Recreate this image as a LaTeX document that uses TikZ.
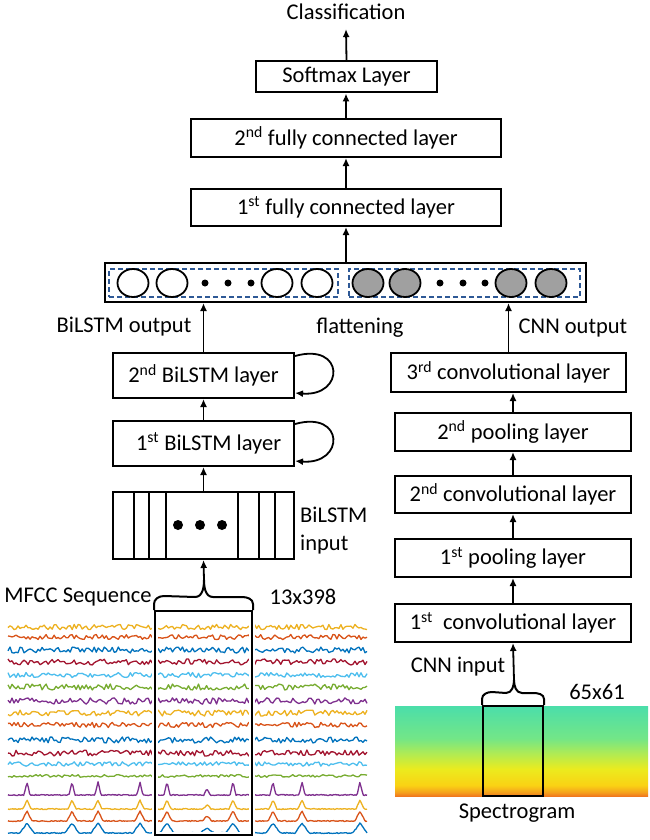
\documentclass[tikz,border=0pt]{standalone}
\usepackage{fontspec}
\setmainfont{Carlito}
\usetikzlibrary{arrows.meta,shapes.geometric}

\definecolor{mblue}{RGB}{0,114,189}
\definecolor{morange}{RGB}{217,83,25}
\definecolor{myellow}{RGB}{237,177,32}
\definecolor{mpurple}{RGB}{126,47,142}
\definecolor{mgreen}{RGB}{119,172,48}
\definecolor{mlblue}{RGB}{77,190,238}
\definecolor{mred}{RGB}{162,20,47}
\definecolor{dashblue}{RGB}{46,89,150}
\definecolor{cellgray}{RGB}{160,160,160}

% spectrogram colours, bottom to top
\pgfdeclareverticalshading{spec}{100bp}{color(0bp)=(rgb,255:red,240;green,120;blue,30);
  color(25bp)=(rgb,255:red,240;green,120;blue,30);
  color(27bp)=(rgb,255:red,245;green,160;blue,30);
  color(31bp)=(rgb,255:red,250;green,210;blue,20);
  color(40bp)=(rgb,255:red,235;green,235;blue,30);
  color(48bp)=(rgb,255:red,180;green,235;blue,80);
  color(57bp)=(rgb,255:red,115;green,230;blue,135);
  color(75bp)=(rgb,255:red,75;green,222;blue,170);
  color(100bp)=(rgb,255:red,75;green,222;blue,170)}

\newcommand{\pk}[2]{max(0,1-abs(\x-#1)/#2)}

\tikzset{
  layer/.style={draw, line width=2pt, inner sep=0pt, font=\fontsize{22.5}{27}\selectfont},
  lbl/.style={inner sep=0pt, font=\fontsize{22.5}{27}\selectfont},
  arr/.style={-{Latex[length=8pt,width=7pt]}, line width=1.8pt},
  cell/.style={ellipse, draw, line width=1.8pt, minimum width=31pt, minimum height=28pt, inner sep=0pt},
  gcell/.style={cell, fill=cellgray},
  dot/.style={circle, fill, inner sep=0pt, minimum size=8pt},
  group/.style={draw=dashblue, dash pattern=on 5pt off 3pt, line width=1.5pt, inner sep=0pt},
  window/.style={draw, line width=2pt, inner sep=0pt, preaction={draw=white, line width=6pt}}
}

\begin{document}
\begin{tikzpicture}[x=1pt,y=-1pt]
\useasboundingbox[fill=white] (0,0) rectangle (650,840);

% top stack
\node[lbl] (cls) at (346,12) {Classification};
\node[layer, minimum width=181pt, minimum height=31pt] (sm) at (346.5,77) {Softmax Layer};
\node[layer, minimum width=310pt, minimum height=38pt] (fc2) at (346,138) {2\textsuperscript{nd} fully connected layer};
\node[layer, minimum width=310pt, minimum height=37pt] (fc1) at (346,207.5) {1\textsuperscript{st} fully connected layer};

% flattened vector
\node[draw, line width=2pt, minimum width=481pt, minimum height=39pt, inner sep=0pt] (bar) at (345.5,282.5) {};
\node[group, minimum width=229pt, minimum height=28pt] (lgrp) at (223.5,283) {};
\node[group, minimum width=231pt, minimum height=28pt] (rgrp) at (464.5,283) {};
\foreach \u in {133,172,277,317} \node[cell] at (\u,283) {};
\foreach \u in {368,405,511,551} \node[gcell] at (\u,283) {};
\foreach \u in {205,228,251,440,463,485} \node[dot, minimum size=7pt] at (\u,283) {};

\node[lbl] (bout) at (124,327) {BiLSTM output};
\node[lbl] (flat) at (360,328) {flattening};
\node[lbl] (cout) at (573,328) {CNN output};

% BiLSTM branch
\node[layer, minimum width=181pt, minimum height=45pt] (bl2) at (203.5,375.5) {2\textsuperscript{nd} BiLSTM layer};
\node[layer, minimum width=181pt, minimum height=45pt] (bl1) at (203.5,443.5) {\ \ 1\textsuperscript{st} BiLSTM layer};
\node[layer, minimum width=181pt, minimum height=67pt] (inp) at (203.5,525.5) {};
\foreach \d in {22,37,54,126,147,163}
  \draw[line width=2pt] ([xshift=\d pt]inp.north west) -- ([xshift=\d pt]inp.south west);
\foreach \u in {178,200,222} \node[dot, minimum size=10pt] at (\u,525) {};
\node[lbl, anchor=west, align=left] (binp) at (300,531) {BiLSTM\\[1pt]input};

\draw[arr] ([yshift=-4pt]bl2.north east) .. controls +(50,-14) and +(50,4) .. ([yshift=6pt]bl2.south east);
\draw[arr] ([yshift=-4pt]bl1.north east) .. controls +(50,-14) and +(50,4) .. ([yshift=6pt]bl1.south east);

% MFCC sequence
\node[lbl] (mfcc) at (78,597) {MFCC Sequence};
\node[lbl] (msize) at (303,597) {13x398};
\pgfmathsetseed{7}
\foreach \yy/\cc/\aa in {627/myellow/2.6, 637/morange/2.6, 650/mblue/3, 662/mred/3,
  675/mlblue/2.6, 687/mgreen/3, 701/mpurple/3.2, 713/myellow/3, 725/morange/2.6,
  740/mblue/3, 753/mred/3, 764/mlblue/2.2, 776/mgreen/1.4}
  \draw[\cc, line width=1.3pt, line join=round] plot[domain=8:367, samples=180] (\x,{\yy+\aa*rand});
\foreach \yy/\cc/\hh/\ww in {795/mpurple/13/3, 809/myellow/9/4, 821/morange/10/5, 833/mblue/10/7}
  \draw[\cc, line width=1.3pt, line join=round] plot[domain=8:367, samples=300]
    (\x,{\yy+0.5*rand-\hh*(\pk{27}{\ww}+\pk{72}{\ww}+\pk{98}{\ww}+\pk{140}{\ww}+\pk{167}{\ww}
      +0.5*\pk{207}{\ww}+\pk{233}{\ww}+\pk{273}{\ww}+\pk{302}{\ww}+\pk{360}{\ww})});
\node[window, minimum width=97pt, minimum height=224pt] (mwin) at (203.5,723) {};
\coordinate (mtip) at (204,580);
\draw[line width=2pt] (mwin.north west) -- ++(0,-6) to[out=90,in=180] ++(10,-8) -- (195,597)
  to[out=0,in=-90] (mtip) to[out=-90,in=180] (213,597) -- (242,597)
  to[out=0,in=90] ([yshift=6pt]mwin.north east) -- (mwin.north east);

% CNN branch
\node[layer, minimum width=235pt, minimum height=39pt] (c3) at (508.5,372.5) {3\textsuperscript{rd} convolutional layer};
\node[layer, minimum width=236pt, minimum height=38pt] (p2) at (513,432) {2\textsuperscript{nd} pooling layer};
\node[layer, minimum width=236pt, minimum height=37pt] (c2) at (513,494.5) {2\textsuperscript{nd} convolutional layer};
\node[layer, minimum width=236pt, minimum height=38pt] (p1) at (513,558) {1\textsuperscript{st} pooling layer};
\node[layer, minimum width=236pt, minimum height=38pt] (c1) at (513,623) {1\textsuperscript{st}\ \ convolutional layer};

\node[lbl] (cinp) at (458,667) {CNN input};
\node[lbl] (csize) at (597,692) {65x61};
\shade[shading=spec] (395,706) rectangle (648,796);
\node[draw, line width=2pt, minimum width=60pt, minimum height=90pt, inner sep=0pt] (swin) at (513,751) {};
\coordinate (stip) at (514,680);
\draw[line width=2pt] (swin.north west) -- ++(0,-6) to[out=90,in=180] ++(10,-7) -- (506,693)
  to[out=0,in=-90] (stip) to[out=-90,in=180] (522,693) -- (533,693)
  to[out=0,in=90] ([yshift=6pt]swin.north east) -- (swin.north east);
\node[lbl] (spec) at (517,813) {Spectrogram};

% connections
\draw[arr] (sm.north) -- ([yshift=-9pt]cls.south);
\draw[arr] (fc2.north) -- (sm.south -| fc2.north);
\draw[arr] (fc1.north) -- (fc2.south);
\draw[arr] (bar.north -| fc1.south) -- (fc1.south);
\draw[arr] (bl2.north) -- (bl2.north |- bar.south);
\draw[arr] (c3.north) -- (c3.north |- bar.south);
\draw[arr] (bl1.north) -- (bl2.south);
\draw[arr] (inp.north) -- (bl1.south);
\draw[arr] (mtip) -- (inp.south);
\draw[arr] (p2.north) -- (p2.north |- c3.south);
\draw[arr] (c2.north) -- (p2.south);
\draw[arr] (p1.north) -- (c2.south);
\draw[arr] (c1.north) -- (p1.south);
\draw[arr] (stip) -- (c1.south);
\end{tikzpicture}
\end{document}
